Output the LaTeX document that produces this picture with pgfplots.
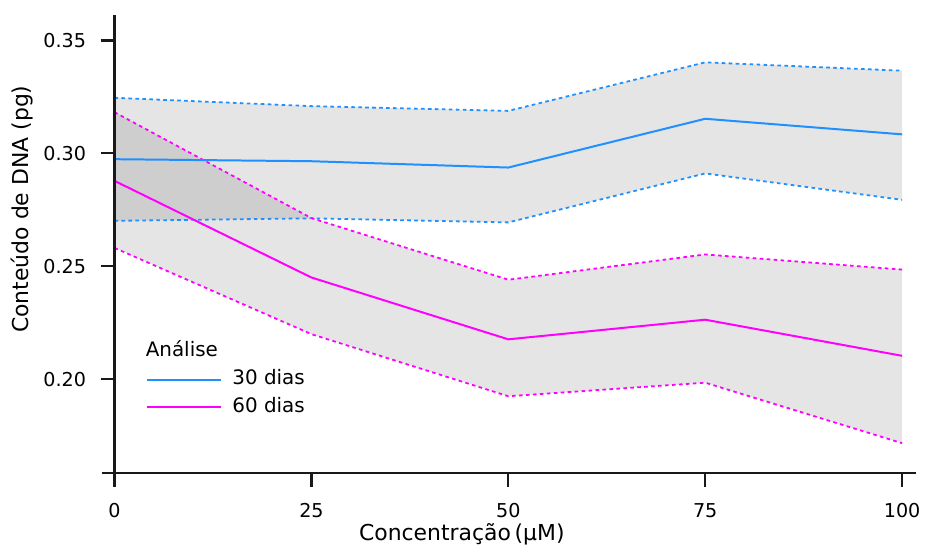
\documentclass[border=0pt]{standalone}
\usepackage{fontspec}
\setmainfont{DejaVu Sans}
\usepackage{pgfplots}
\pgfplotsset{compat=1.18}
\usepgfplotslibrary{fillbetween}
\definecolor{cblue}{RGB}{30,144,255}
\definecolor{cmag}{RGB}{255,0,255}
\definecolor{axc}{RGB}{25,25,25}
\begin{document}
\begin{tikzpicture}
\begin{axis}[
  set layers,
  scale only axis, width=395.5pt, height=230pt,
  at={(0,0)}, anchor=south west,
  xmin=0, xmax=100, ymin=0.1584, ymax=0.3613,
  clip=false,
  axis lines=left,
  axis line style={-, line width=1.1pt, axc},
  tick style={line width=1.1pt, axc},
  tick align=outside,
  major tick length=7pt,
  xtick={0,25,50,75,100}, ytick={0.20,0.25,0.30,0.35},
  minor tick num=0,
  /pgf/number format/assume math mode=true,
  yticklabel style={/pgf/number format/fixed, /pgf/number format/precision=2, /pgf/number format/fixed zerofill, xshift=-3.8pt},
  xticklabel style={yshift=-4.6pt},
  ticklabel style={font=\fontsize{9.6}{11}\selectfont},
  xlabel={Concentração\,(µM)},
  ylabel={Conteúdo de DNA (pg)},
  label style={font=\fontsize{11}{13}\selectfont},
  xlabel style={at={(axis description cs:0.441,-0.1348)}, anchor=center},
  ylabel style={at={(axis description cs:-0.1176,0.576)}, anchor=center},
  legend image code/.code={\draw[#1] (0pt,0pt) -- (37.5pt,0pt);},
  legend style={at={(rel axis cs:0.0392,0.1735)}, anchor=west, draw=none, fill=none,
    inner sep=0pt, font=\fontsize{10}{12}\selectfont, row sep=5pt, column sep=5pt,
    nodes={inner sep=0pt, text height=7pt, text depth=2pt}},
  legend cell align=left,
]
% bounds
\addplot[name path=bu, cblue, line width=0.9pt, dash pattern=on 1.8pt off 1.7pt, forget plot]
  coordinates {(0,0.3246)(25,0.3209)(50,0.3188)(75,0.3403)(100,0.3366)};
\addplot[name path=bl, cblue, line width=0.9pt, dash pattern=on 1.8pt off 1.7pt, forget plot]
  coordinates {(0,0.2701)(25,0.2712)(50,0.2694)(75,0.2911)(100,0.2794)};
\addplot[name path=pu, cmag, line width=0.9pt, dash pattern=on 1.8pt off 1.7pt, forget plot]
  coordinates {(0,0.3182)(25,0.2713)(50,0.2440)(75,0.2552)(100,0.2485)};
\addplot[name path=pl, cmag, line width=0.9pt, dash pattern=on 1.8pt off 1.7pt, forget plot]
  coordinates {(0,0.2581)(25,0.2199)(50,0.1924)(75,0.1984)(100,0.1716)};
\addplot[fill=black, fill opacity=0.1, draw=none, forget plot] fill between[of=bu and bl];
\addplot[fill=black, fill opacity=0.1, draw=none, forget plot] fill between[of=pu and pl];
% means
\addplot[cblue, line width=1pt] coordinates {(0,0.2974)(25,0.2965)(50,0.2937)(75,0.3153)(100,0.3084)};
\addlegendentry{30 dias}
\addplot[cmag, line width=1pt] coordinates {(0,0.2878)(25,0.2450)(50,0.2176)(75,0.2263)(100,0.2103)};
\addlegendentry{60 dias}
% axis line extensions
\draw[line width=1.1pt, axc] (axis cs:-1.64,0.1584) -- (axis cs:101.8,0.1584);
\draw[line width=1.1pt, axc] (axis cs:0,0.1527) -- (axis cs:0,0.3613);
\node[anchor=west, inner sep=0pt, font=\fontsize{10}{12}\selectfont] at (rel axis cs:0.0392,0.2717) {Análise};
\end{axis}
\path (-57.5pt,-37.5pt) rectangle (406pt,237.5pt);
\end{tikzpicture}
\end{document}
